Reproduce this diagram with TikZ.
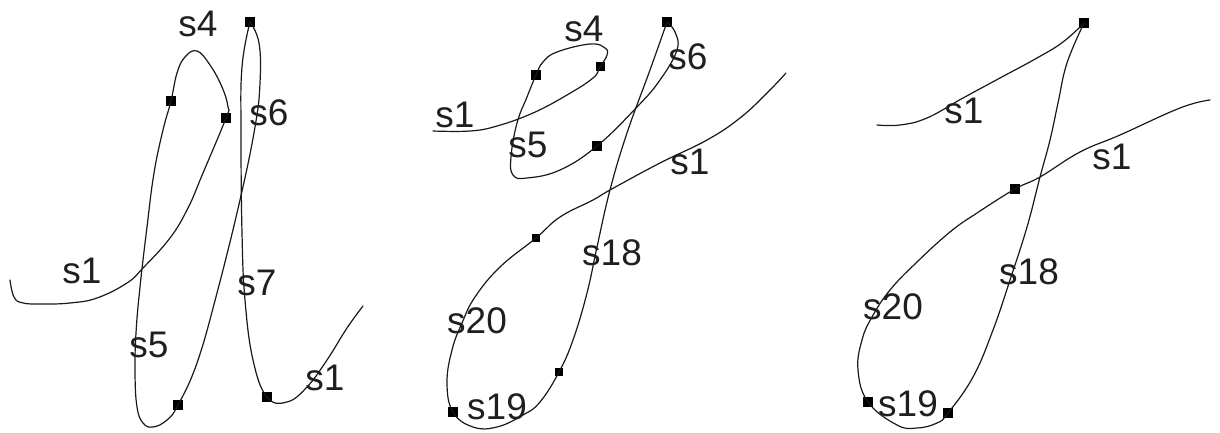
\documentclass[tikz,border=0pt]{standalone}
\usepackage{fontspec}
\setmainfont{Liberation Sans}
\tikzset{
  lab/.style={inner sep=0pt,font=\fontsize{37}{37}\selectfont,text=black!88},
  sq/.style={fill=black,draw=none,inner sep=0pt,minimum size=#1},
  sq/.default=10pt,
  stroke/.style={draw=black!90,line width=1.2pt,line join=round,line cap=round}
}
\newcommand{\curve}[1]{\draw[stroke] plot[smooth,tension=0.7] coordinates {#1};}
\begin{document}
\begin{tikzpicture}[x=1pt,y=-1pt]
\useasboundingbox (0,0) rectangle (1220,433);
% left panel
\node[sq] (a1) at (226,118) {};
\node[sq] (a2) at (171,101) {};
\node[sq] (a3) at (178,405) {};
\node[sq] (a4) at (250,22) {};
\node[sq] (a5) at (267,397) {};
\curve{(10,280) (14,297) (23,303) (43,304) (70,303) (97,298) (127,283) (143,268) (170,238) (188,208) (203,173) (a1.center) (228,107) (222,87) (210,65) (197,51) (185,57) (177,73) (a2.center) (163,130) (154,173) (147,227) (140,287) (136,333) (135,373) (137,407) (143,423) (153,427) (167,420) (a3.center) (197,363) (217,293) (240,200) (255,127) (260,83) (259,43) (a4.center)}
\curve{(a4.center) (242,67) (241,133) (242,233) (245,300) (253,360) (a5.center) (287,402) (307,387) (327,360) (347,328) (363,306)}
\node[lab] (la1) at (198,24) {s4};
\node[lab] (la2) at (269,113) {s6};
\node[lab] (la3) at (82,271) {s1};
\node[lab] (la4) at (257,283) {s7};
\node[lab] (la5) at (149,345) {s5};
\node[lab] (la6) at (325,378) {s1};
% middle panel
\node[sq=9pt] (b1) at (600,67) {};
\node[sq] (b2) at (536,75) {};
\node[sq] (b3) at (597,146) {};
\node[sq] (b4) at (667,22) {};
\node[sq=8pt] (b5) at (559,372) {};
\node[sq] (b6) at (453,412) {};
\node[sq=8pt] (b7) at (536,238) {};
\curve{(433,131) (470,131) (497,126) (533,113) (567,95) (593,78) (b1.center) (607,55) (605,48) (590,44) (557,52) (543,62) (b2.center) (527,97) (517,123) (511,157) (513,175) (527,178) (560,170) (b3.center) (637,107) (660,80) (677,50) (675,32) (b4.center)}
\curve{(b4.center) (650,70) (627,133) (610,190) (597,247) (587,293) (573,340) (b5.center) (540,402) (523,415) (497,427) (473,427) (b6.center) (447,383) (452,350) (462,323) (475,297) (500,267) (b7.center) (560,217) (593,200) (610,190) (660,163) (707,140) (740,118) (767,93) (786,73)}
\node[lab] (lb1) at (584,29) {s4};
\node[lab] (lb2) at (688,57) {s6};
\node[lab] (lb3) at (455,115) {s1};
\node[lab] (lb4) at (528,145) {s5};
\node[lab] (lb5) at (690,162) {s1};
\node[lab] (lb6) at (612,253) {s18};
\node[lab] (lb7) at (477,321) {s20};
\node[lab] (lb8) at (497,407) {s19};
% right panel
\node[sq] (c1) at (1084,23) {};
\node[sq] (c2) at (948,413) {};
\node[sq] (c3) at (868,402) {};
\node[sq] (c4) at (1015,189) {};
\curve{(877,125) (900,125) (927,118) (963,98) (1000,78) (1037,58) (1063,42) (c1.center)}
\curve{(c1.center) (1067,63) (1058,103) (1050,140) (1040,177) (1027,227) (1010,280) (993,330) (973,377) (c2.center) (937,423) (917,428) (897,425) (c3.center) (858,370) (862,340) (872,317) (890,290) (917,262) (950,232) (977,213) (c4.center) (1040,177) (1080,152) (1120,135) (1180,108) (1210,100)}
\node[lab] (lc1) at (964,111) {s1};
\node[lab] (lc2) at (1112,157) {s1};
\node[lab] (lc3) at (1029,272) {s18};
\node[lab] (lc4) at (893,307) {s20};
\node[lab] (lc5) at (908,404) {s19};
\end{tikzpicture}
\end{document}
